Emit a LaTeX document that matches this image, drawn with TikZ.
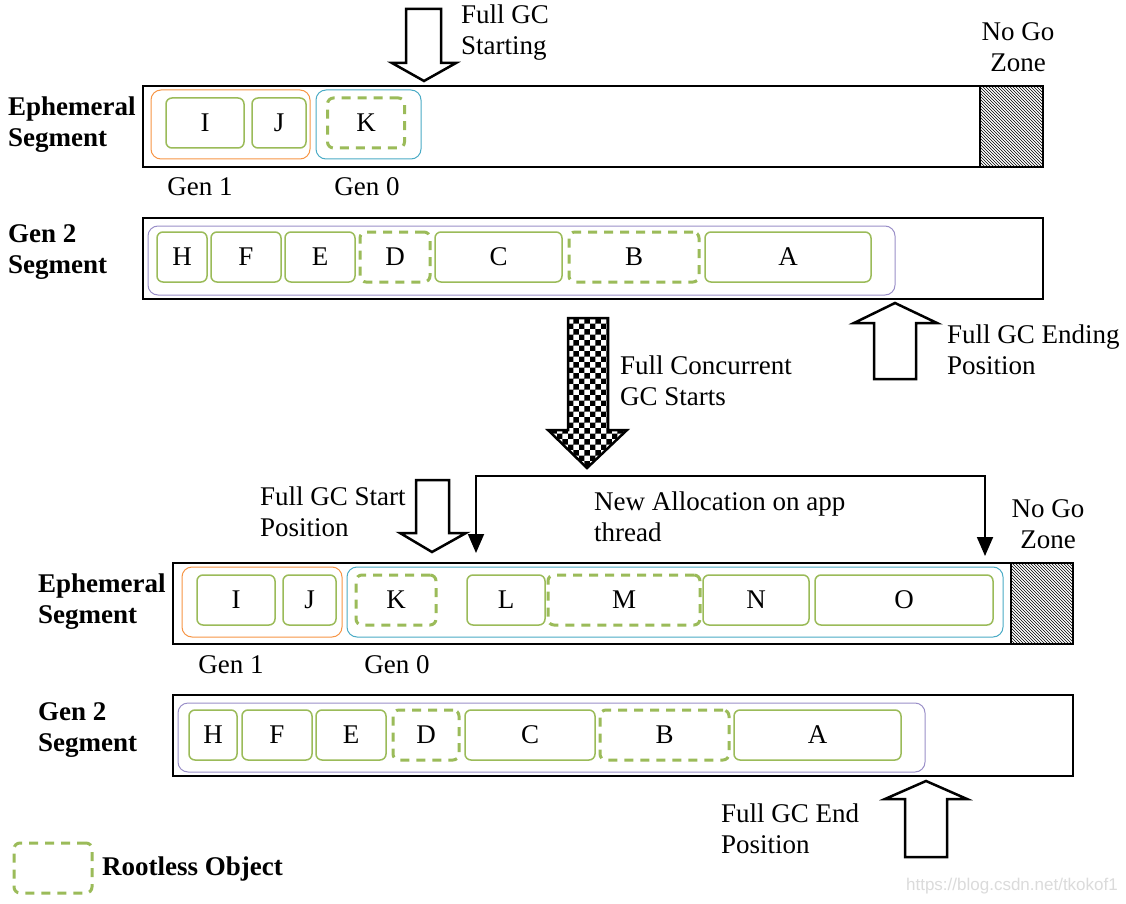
\documentclass[tikz,border=0pt]{standalone}
\usepackage{fontspec}
\setmainfont{Liberation Serif}
\newfontfamily\wmfont{Liberation Sans}
\usetikzlibrary{patterns,arrows.meta}
\definecolor{objgreen}{HTML}{9BBB59}
\definecolor{gen1orange}{HTML}{F79646}
\definecolor{gen0blue}{HTML}{4BACC6}
\definecolor{gen2purple}{HTML}{9A8FC8}
\def\gcfont{\fontsize{27}{31}\selectfont}

\begin{document}
\begin{tikzpicture}[x=1pt,y=-1pt,
   seg/.style={draw,line width=2.5pt,fill=white},
   nogo/.style={draw,line width=2.5pt,pattern=north west lines},
   genone/.style={draw=gen1orange,line width=1pt,rounded corners=10pt},
   genzero/.style={draw=gen0blue,line width=1pt,rounded corners=10pt},
   gentwo/.style={draw=gen2purple,line width=1pt,rounded corners=10pt},
   obj/.style={draw=objgreen,line width=1.5pt,rounded corners=6pt,
      minimum height=50pt,inner sep=0pt,font=\gcfont},
   rootless/.style={obj,line width=3pt,dash pattern=on 9pt off 7pt},
   lbl/.style={font=\gcfont,inner sep=0pt,align=left,anchor=west},
   seglbl/.style={lbl,font=\gcfont\bfseries},
   blockarrow/.style={draw,line width=2.5pt,fill=white,line join=miter}]
   \fill[white] (0,0) rectangle (1126,904);
   \useasboundingbox (0,0) rectangle (1126,904);
% ephemeral segment 1
   \draw[seg] (143,86) rectangle (1043,167);
   \draw[nogo] (980,86) rectangle (1043,167);
   \draw[genone] (151,90) rectangle (310,159);
   \draw[genzero] (316,90) rectangle (421,159);
   \node[obj,minimum width=78pt] (i1) at (205,123) {I};
   \node[obj,minimum width=54pt] (j1) at (279,123) {J};
   \node[rootless,minimum width=77pt] (k1) at (366,123) {K};
   \node[seglbl] (eph1) at (8,125) {Ephemeral\\Segment};
   \node[font=\gcfont] (gone1) at (200,187) {Gen 1};
   \node[font=\gcfont] (gzero1) at (367,187) {Gen 0};
   \node[font=\gcfont,align=center] (nogo1) at (1018,47) {No Go\\Zone};
   \draw[blockarrow] (406,9) -- (441,9) -- (441,63) -- (456,63) --
   (424,81) -- (392,63) -- (406,63) -- cycle;
   \node[lbl] (start1) at (461,33) {Full GC\\Starting};
% gen 2 segment 1
   \draw[seg] (143,218) rectangle (1043,299);
   \draw[gentwo] (148,226) rectangle (895,295);
   \node[obj,minimum width=50pt] (h1) at (182,257) {H};
   \node[obj,minimum width=70pt] (f1) at (246,257) {F};
   \node[obj,minimum width=70pt] (e1) at (320,257) {E};
   \node[rootless,minimum width=70pt] (d1) at (395,257) {D};
   \node[obj,minimum width=127pt] (c1) at (498.5,257) {C};
   \node[rootless,minimum width=130pt] (b1) at (634,257) {B};
   \node[obj,minimum width=166pt] (a1) at (788,257) {A};
   \node[seglbl] (gtwo1) at (8,252) {Gen 2\\Segment};
% full gc ending + concurrent gc
   \draw[blockarrow] (874,379) -- (916,379) -- (916,323) -- (937,323) --
   (895,303) -- (854,323) -- (874,323) -- cycle;
   \node[lbl] (end1) at (947,350) {Full GC Ending\\Position};
   \draw[blockarrow,pattern=checkerboard] (568,318) -- (608,318) --
   (608,430) -- (627,430) -- (587,468) -- (548,430) -- (568,430) -- cycle;
   \node[lbl] (conc) at (620,381) {Full Concurrent\\GC Starts};
% new allocation
   \draw[blockarrow] (416,480) -- (449,480) -- (449,533) -- (466,533) --
   (432,552) -- (400,533) -- (416,533) -- cycle;
   \node[lbl] (start2) at (260,512) {Full GC Start\\Position};
   \node[lbl] (alloc) at (594,517) {New Allocation on app\\thread};
   \node[font=\gcfont,align=center] (nogo2) at (1048,524) {No Go\\Zone};
   \coordinate (alloctl) at (476,476); \coordinate (alloctr) at (985,476);
   \coordinate (allocl) at (476,553); \coordinate (allocr) at (985,556);
   \draw[line width=1.8pt,{Triangle[width=16pt,length=19pt]}-{Triangle[width=16pt,length=19pt]}]
   (allocl) -- (alloctl) -- (alloctr) -- (allocr);
% ephemeral segment 2
   \draw[seg] (173,563) rectangle (1073,644);
   \draw[nogo] (1011,563) rectangle (1073,644);
   \draw[genone] (182,567) rectangle (342,637);
   \draw[genzero] (347,567) rectangle (1003,637);
   \node[obj,minimum width=78pt] (i2) at (236,600) {I};
   \node[obj,minimum width=53pt] (j2) at (309.5,600) {J};
   \node[rootless,minimum width=80pt] (k2) at (396,600) {K};
   \node[obj,minimum width=78pt] (l2) at (506,600) {L};
   \node[rootless,minimum width=152pt] (m2) at (624,600) {M};
   \node[obj,minimum width=106pt] (n2) at (756,600) {N};
   \node[obj,minimum width=178pt] (o2) at (904,600) {O};
   \node[seglbl] (eph2) at (38,602) {Ephemeral\\Segment};
   \node[font=\gcfont] (gone2) at (231,665) {Gen 1};
   \node[font=\gcfont] (gzero2) at (397,665) {Gen 0};
% gen 2 segment 2
   \draw[seg] (173,695) rectangle (1073,776);
   \draw[gentwo] (178,703) rectangle (925,772);
   \node[obj,minimum width=48pt] (h2) at (213,735) {H};
   \node[obj,minimum width=70pt] (f2) at (277,735) {F};
   \node[obj,minimum width=70pt] (e2) at (351,735) {E};
   \node[rootless,minimum width=66pt] (d2) at (426,735) {D};
   \node[obj,minimum width=130pt] (c2) at (530,735) {C};
   \node[rootless,minimum width=129pt] (b2) at (664.5,735) {B};
   \node[obj,minimum width=167pt] (a2) at (817.5,735) {A};
   \node[seglbl] (gtwo2) at (38,730) {Gen 2\\Segment};
   \draw[blockarrow] (905,857) -- (947,857) -- (947,799) -- (967,799) --
   (926,781) -- (885,799) -- (905,799) -- cycle;
   \node[lbl] (end2) at (721,829) {Full GC End\\Position};
% legend
   \node[rootless,minimum width=78pt] (legbox) at (53,868) {};
   \node[seglbl] (legtxt) at (102,869) {Rootless Object};
   \node[font=\wmfont\fontsize{17}{19}\selectfont,text=gray!28,inner sep=0pt,
   anchor=east] (wm) at (1118,886) {https://blog.csdn.net/tkokof1};
\end{tikzpicture}
\end{document}
